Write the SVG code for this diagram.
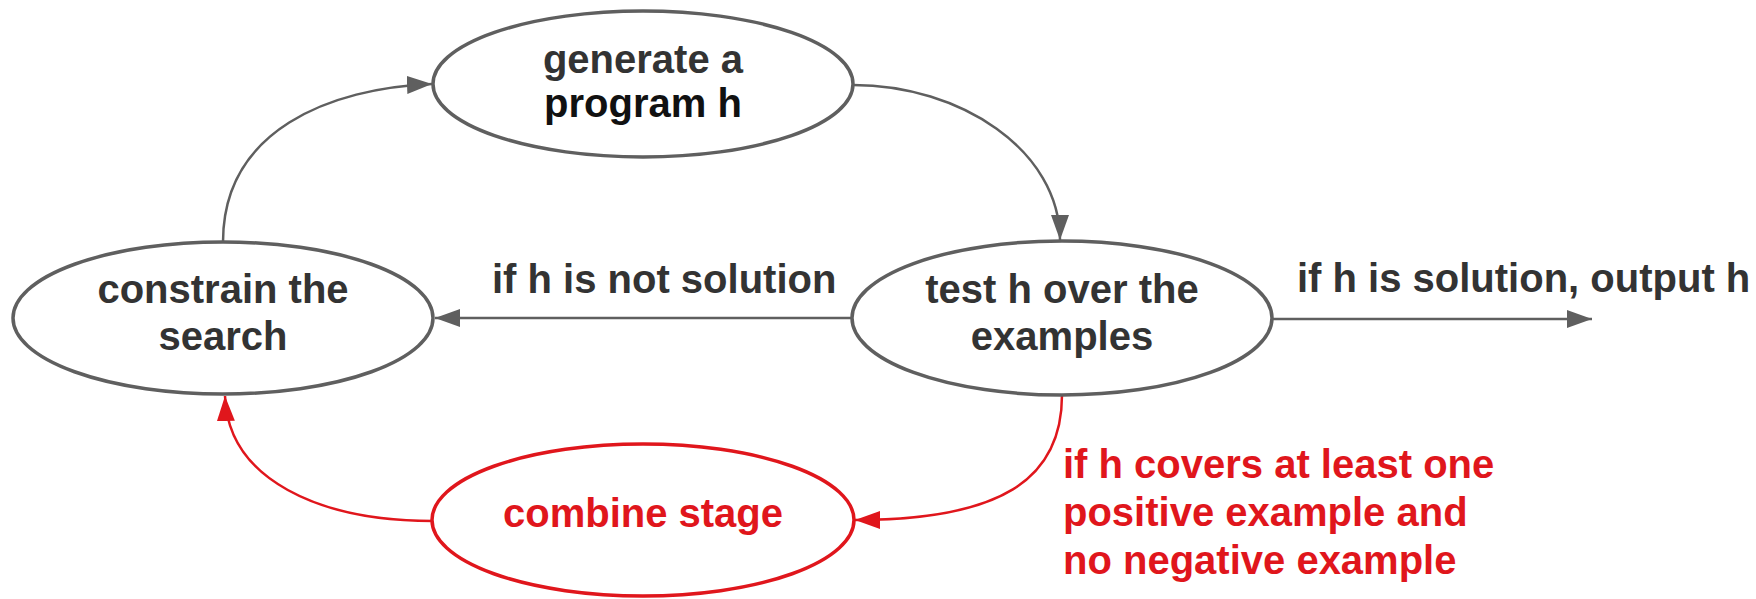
<svg xmlns="http://www.w3.org/2000/svg" width="1756" height="599" viewBox="0 0 1756 599">
<style>
  .node ellipse { fill: #ffffff; stroke: #5f5f5f; stroke-width: 3.5; }
  .node.red ellipse { stroke: #e0161c; }
  text { font-family: "Liberation Sans", Arial, sans-serif; font-weight: bold; font-size: 40px; }
  .ntext { fill: #333333; text-anchor: middle; }
  .rtext { fill: #e0161c; }
  .conn { fill: none; stroke: #5f5f5f; stroke-width: 2.5; }
  .conn.red { stroke: #e0161c; }
  .label { fill: #333333; }
</style>
<defs>
  <marker id="ag" markerUnits="userSpaceOnUse" markerWidth="27" markerHeight="20" refX="25" refY="9" orient="auto" viewBox="0 0 27 20">
    <path d="M0,0 L25,9 L0,18 z" fill="#5f5f5f"/>
  </marker>
  <marker id="ar" markerUnits="userSpaceOnUse" markerWidth="27" markerHeight="20" refX="25" refY="9" orient="auto" viewBox="0 0 27 20">
    <path d="M0,0 L25,9 L0,18 z" fill="#e0161c"/>
  </marker>
</defs>

<g id="connectors">
  <path class="conn" d="M223,242 C223,130 330,88 432,84" marker-end="url(#ag)"/>
  <path class="conn" d="M853,85 C960,85 1060,150 1060,240" marker-end="url(#ag)"/>
  <path class="conn" d="M852,318 L435,318" marker-end="url(#ag)"/>
  <path class="conn" d="M1273,319 L1592,319" marker-end="url(#ag)"/>
  <path class="conn red" d="M1062,395 C1062,480 1000,520 855,520" marker-end="url(#ar)"/>
  <path class="conn red" d="M433,521 C320,521 228,480 225,396" marker-end="url(#ar)"/>
  <text class="label" x="492" y="293">if h is not solution</text>
  <text class="label" x="1297" y="292">if h is solution, output h</text>
  <text class="rtext" x="1063" y="478">if h covers at least one</text>
  <text class="rtext" x="1063" y="526">positive example and</text>
  <text class="rtext" x="1063" y="574">no negative example</text>
</g>

<g id="generate" class="node">
  <ellipse cx="643" cy="84" rx="210" ry="73"/>
  <text class="ntext" x="643" y="73">generate a</text>
  <text class="ntext" x="643" y="117" style="fill:#111111">program h</text>
</g>

<g id="constrain" class="node">
  <ellipse cx="223" cy="318" rx="210" ry="76"/>
  <text class="ntext" x="223" y="303">constrain the</text>
  <text class="ntext" x="223" y="350">search</text>
</g>

<g id="test" class="node">
  <ellipse cx="1062" cy="318" rx="210" ry="77"/>
  <text class="ntext" x="1062" y="303">test h over the</text>
  <text class="ntext" x="1062" y="350">examples</text>
</g>

<g id="combine" class="node red">
  <ellipse cx="643" cy="520" rx="211" ry="76"/>
  <text class="ntext" x="643" y="527" style="fill:#e0161c">combine stage</text>
</g>
</svg>
